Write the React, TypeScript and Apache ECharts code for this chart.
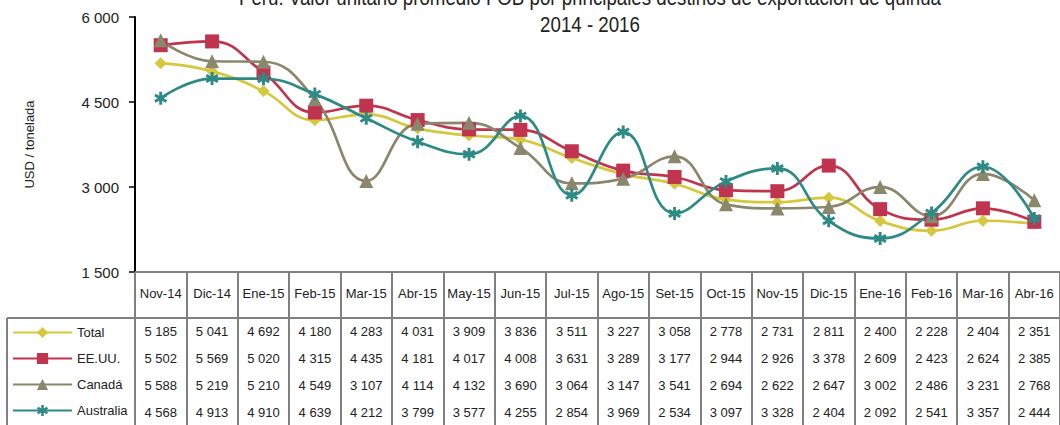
import React, { useEffect, useRef } from "react";
import * as echarts from "echarts";

const categories = ["Nov-14", "Dic-14", "Ene-15", "Feb-15", "Mar-15", "Abr-15", "May-15", "Jun-15", "Jul-15", "Ago-15", "Set-15", "Oct-15", "Nov-15", "Dic-15", "Ene-16", "Feb-16", "Mar-16", "Abr-16"];
const total = [5185, 5041, 4692, 4180, 4283, 4031, 3909, 3836, 3511, 3227, 3058, 2778, 2731, 2811, 2400, 2228, 2404, 2351];
const eeuu = [5502, 5569, 5020, 4315, 4435, 4181, 4017, 4008, 3631, 3289, 3177, 2944, 2926, 3378, 2609, 2423, 2624, 2385];
const canada = [5588, 5219, 5210, 4549, 3107, 4114, 4132, 3690, 3064, 3147, 3541, 2694, 2622, 2647, 3002, 2486, 3231, 2768];
const australia = [4568, 4913, 4910, 4639, 4212, 3799, 3577, 4255, 2854, 3969, 2534, 3097, 3328, 2404, 2092, 2541, 3357, 2444];
const seriesNames = ["Total", "EE.UU.", "Canadá", "Australia"];
const yMin = 1500;
const yMax = 6000;
const yInterval = 1500;
const titleLines = ["Perú: Valor unitario promedio FOB por principales destinos de exportación de quinua", "2014 - 2016"];
const yAxisName = "USD / tonelada";

const colors = ["#d6c83c", "#c0344f", "#8a876c", "#2e8a84"];
const asterisk =
  "path://M3.9,0L6.1,0L6.1,10L3.9,10Z M0.12,3.45L1.22,1.55L9.88,6.55L8.78,8.45Z M0.12,6.55L8.78,1.55L9.88,3.45L1.22,8.45Z";
const symbols = ["diamond", "rect", "triangle", asterisk];
const symbolSizes = [12, 14, 14, 13];

const fmt = (n: number | string) => String(n).replace(/\B(?=(\d{3})+(?!\d))/g, " ");
const FONT = "'Liberation Sans', Arial, sans-serif";

export default function App() {
  const ref = useRef<HTMLDivElement>(null);
  useEffect(() => {
    if (!ref.current) return;
    const chart = echarts.init(ref.current, undefined, { renderer: "svg" });
    const dataRows = [total, eeuu, canada, australia];
    const rowOffsets = [53, 80, 107, 134];
    const tableColor = "#808080";
    const option: any = {
      animation: false,
      textStyle: { fontFamily: FONT },
      color: colors,
      grid: { left: 135, right: -4, top: 17, height: 255 },
      legend: {
        orient: "vertical",
        left: 12,
        top: 326,
        padding: 0,
        itemWidth: 59,
        itemHeight: 14,
        itemGap: 13,
        height: 120,
        selectedMode: false,
        textStyle: { fontSize: 13, color: "#222", fontFamily: FONT },
        data: seriesNames,
      },
      xAxis: [
        {
          type: "category",
          data: categories,
          boundaryGap: true,
          axisLine: { show: true, lineStyle: { color: tableColor, width: 2 } },
          axisTick: { show: true, length: 154, interval: 0, lineStyle: { color: tableColor, width: 2 } },
          axisLabel: { interval: 0, margin: 15, fontSize: 13, color: "#222", fontFamily: FONT },
          splitLine: { show: false },
        },
        ...dataRows.map((row, i) => ({
          type: "category",
          data: row.map((v) => fmt(v)),
          position: "bottom",
          offset: rowOffsets[i],
          boundaryGap: true,
          axisLine: { show: false },
          axisTick: { show: false },
          splitLine: { show: false },
          axisLabel: { interval: 0, margin: 0, fontSize: 13, color: "#222", fontFamily: FONT },
        })),
      ],
      yAxis: {
        type: "value",
        min: yMin,
        max: yMax,
        interval: yInterval,
        name: yAxisName,
        nameLocation: "middle",
        nameGap: 99,
        nameRotate: 90,
        nameTextStyle: { fontSize: 13, color: "#222", fontFamily: FONT },
        axisLine: { show: true, lineStyle: { color: "#000", width: 2 } },
        axisTick: { show: true, length: 6, lineStyle: { color: "#000", width: 1.5 } },
        axisLabel: { formatter: (v: number) => fmt(v), fontSize: 15, color: "#222", margin: 16, fontFamily: FONT },
        splitLine: { show: false },
      },
      series: dataRows.map((row, i) => ({
        name: seriesNames[i],
        type: "line",
        xAxisIndex: 0,
        data: row,
        smooth: 0.45,
        symbol: symbols[i],
        symbolSize: symbolSizes[i],
        showAllSymbol: true,
        lineStyle: { width: 2.7, color: colors[i] },
        itemStyle: { color: colors[i] },
      })),
      graphic: [
        {
          type: "text",
          x: 590,
          y: -3,
          scaleX: 0.85,
          style: { text: titleLines[0], font: `22px ${FONT}`, fill: "#222", textAlign: "center", textVerticalAlign: "middle" },
        },
        {
          type: "text",
          x: 590,
          y: 24,
          scaleX: 0.85,
          style: { text: titleLines[1], font: `22px ${FONT}`, fill: "#222", textAlign: "center", textVerticalAlign: "middle" },
        },
        { type: "line", shape: { x1: 7, y1: 318, x2: 1064, y2: 318 }, style: { stroke: tableColor, lineWidth: 2 } },
        { type: "line", shape: { x1: 7, y1: 318, x2: 7, y2: 426 }, style: { stroke: tableColor, lineWidth: 2 } },
      ],
    };
    chart.setOption(option);
    return () => chart.dispose();
  }, []);
  return <div ref={ref} style={{ position: "fixed", left: 0, top: 0, width: 1060, height: 425, background: "#fff" }} />;
}
